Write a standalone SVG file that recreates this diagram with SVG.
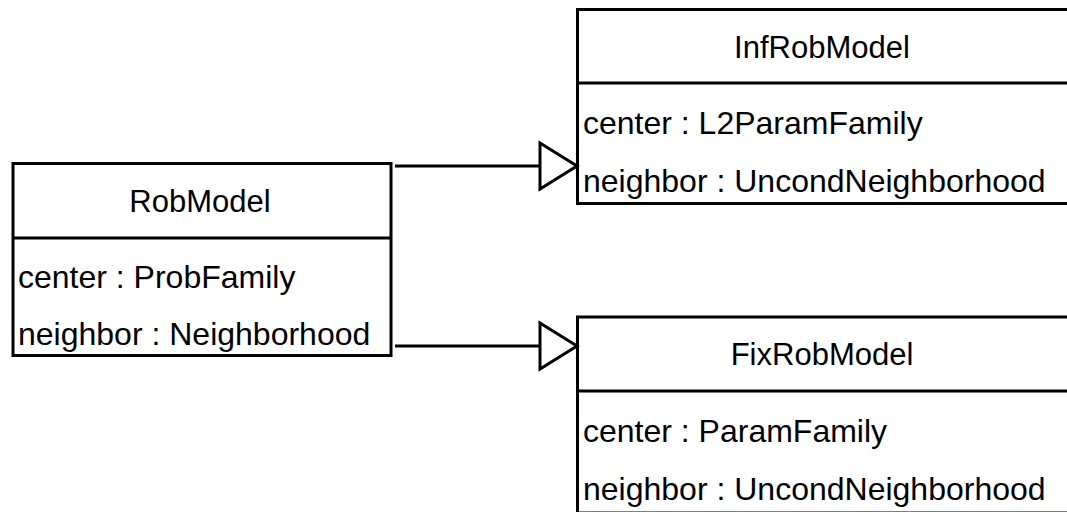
<svg xmlns="http://www.w3.org/2000/svg" width="1067" height="512" viewBox="0 0 1067 512">
<style>
.box{fill:#fff;stroke:#000;stroke-width:3}
.div{stroke:#000;stroke-width:3}
.t{font-family:"Liberation Sans",Arial,sans-serif;font-size:32px;fill:#000}
.c{text-anchor:middle;font-size:31px}
.edge{fill:none;stroke:#000;stroke-width:3}
.head{fill:#fff;stroke:#000;stroke-width:3}
</style>
<rect width="1067" height="512" fill="#fff"/>
<g id="RobModel">
<rect class="box" x="13" y="163.5" width="378" height="192"/>
<line class="div" x1="13" y1="238" x2="391" y2="238"/>
<text class="t c" x="200" y="212">RobModel</text>
<text class="t" x="18" y="288">center : ProbFamily</text>
<text class="t" x="18" y="345">neighbor : Neighborhood</text>
</g>
<g id="InfRobModel">
<rect class="box" x="577.5" y="9.5" width="500" height="194"/>
<line class="div" x1="577.5" y1="83" x2="1077" y2="83"/>
<text class="t c" x="822" y="58">InfRobModel</text>
<text class="t" x="583" y="134">center : L2ParamFamily</text>
<text class="t" x="583" y="192">neighbor : UncondNeighborhood</text>
</g>
<g id="FixRobModel">
<rect class="box" x="577.5" y="317" width="500" height="196"/>
<line class="div" x1="577.5" y1="391" x2="1077" y2="391"/>
<text class="t c" x="822" y="365">FixRobModel</text>
<text class="t" x="583" y="442">center : ParamFamily</text>
<text class="t" x="583" y="500">neighbor : UncondNeighborhood</text>
</g>
<g id="connectors">
<line class="edge" x1="395" y1="166" x2="540" y2="166"/>
<polygon class="head" points="540,143 577,166 540,189"/>
<line class="edge" x1="395" y1="346" x2="540" y2="346"/>
<polygon class="head" points="540,323 577,346 540,369"/>
</g>
</svg>
